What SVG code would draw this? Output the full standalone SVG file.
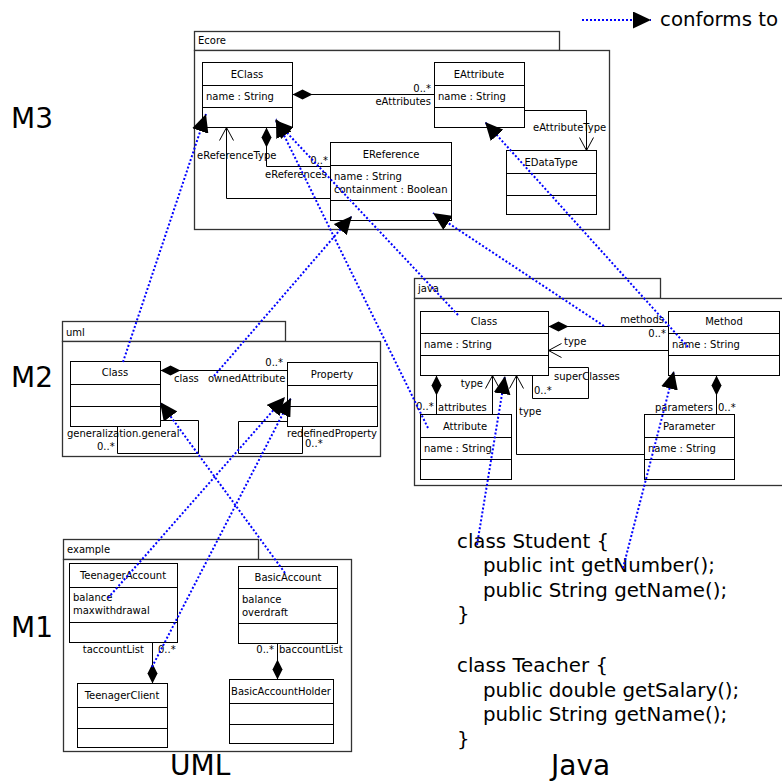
<svg xmlns="http://www.w3.org/2000/svg" width="782" height="782" viewBox="0 0 782 782">
<style>
text{font-family:"DejaVu Sans","Liberation Sans",sans-serif;fill:#000}
.s{font-size:10px}
.c{font-size:10px;text-anchor:middle}
.r{font-size:10px;text-anchor:end}
.code{font-size:19.8px}
.lvl{font-size:28px}
.box{fill:#fff;stroke:#000;stroke-width:1}
.pkg{fill:#fff;stroke:#333;stroke-width:1.3}
.ln{fill:none;stroke:#000;stroke-width:1}
.conf{fill:none;stroke:#0000ff;stroke-width:2;stroke-dasharray:2,2}
</style>
<defs>
<marker id="dia" markerUnits="userSpaceOnUse" markerWidth="21" markerHeight="11" viewBox="0 0 21 11" refX="0.5" refY="5.5" orient="auto"><path d="M0.5,5.5 L10.5,0.5 L20.5,5.5 L10.5,10.5 z" fill="#000"/></marker>
<marker id="open" markerUnits="userSpaceOnUse" markerWidth="15" markerHeight="16" viewBox="0 0 15 16" refX="13.5" refY="8" orient="auto"><path d="M0.5,1 L13.5,8 L0.5,15" fill="none" stroke="#000" stroke-width="1"/></marker>
<marker id="tri" markerUnits="userSpaceOnUse" markerWidth="18" markerHeight="17" viewBox="0 0 18 17" refX="18" refY="8.5" orient="auto"><path d="M0,0 L18,8.5 L0,17 z" fill="#000"/></marker>
</defs>

<g id="legend">
<line class="conf" x1="582" y1="20" x2="651" y2="20" marker-end="url(#tri)"/>
<text x="660" y="26" style="font-size:19.8px">conforms to</text>
</g>

<g id="levels">
<text class="lvl" x="11" y="128">M3</text>
<text class="lvl" x="11" y="387">M2</text>
<text class="lvl" x="11" y="637">M1</text>
<text class="lvl" x="170" y="775">UML</text>
<text class="lvl" x="551" y="775">Java</text>
</g>

<g id="pkg-ecore">
<rect class="pkg" x="194.5" y="31.5" width="365" height="19"/>
<rect class="pkg" x="194.5" y="50.5" width="415" height="179"/>
<text class="s" x="198" y="44">Ecore</text>
</g>
<g id="pkg-uml">
<rect class="pkg" x="62.5" y="321.5" width="223" height="20"/>
<rect class="pkg" x="62.5" y="341.5" width="318" height="115"/>
<text class="s" x="66" y="336">uml</text>
</g>
<g id="pkg-java">
<rect class="pkg" x="414.5" y="278.5" width="246" height="20"/>
<rect class="pkg" x="414.5" y="298.5" width="380" height="187"/>
<text class="s" x="418" y="292">java</text>
</g>
<g id="pkg-example">
<rect class="pkg" x="63.5" y="539.5" width="195" height="20"/>
<rect class="pkg" x="63.5" y="559.5" width="288" height="192"/>
<text class="s" x="67" y="553">example</text>
</g>

<g id="EClass">
<rect class="box" x="202.5" y="62.5" width="90" height="65"/>
<path class="ln" d="M202.5,85.5 H292.5 M202.5,107.5 H292.5"/>
<text class="c" x="247" y="78">EClass</text>
<text class="s" x="206" y="100">name : String</text>
</g>
<g id="EAttribute">
<rect class="box" x="434.5" y="62.5" width="90" height="65"/>
<path class="ln" d="M434.5,85.5 H524.5 M434.5,107.5 H524.5"/>
<text class="c" x="479" y="78">EAttribute</text>
<text class="s" x="438" y="100">name : String</text>
</g>
<g id="EDataType">
<rect class="box" x="506.5" y="150.5" width="90" height="64"/>
<path class="ln" d="M506.5,173.5 H596.5 M506.5,195.5 H596.5"/>
<text class="c" x="551" y="166">EDataType</text>
</g>
<g id="EReference">
<rect class="box" x="330.5" y="142.5" width="121" height="78"/>
<path class="ln" d="M330.5,165.5 H451.5 M330.5,200.5 H451.5"/>
<text class="c" x="391" y="158">EReference</text>
<text class="s" x="334" y="180">name : String</text>
<text class="s" x="334" y="193">containment : Boolean</text>
</g>

<g id="uml-Class">
<rect class="box" x="70.5" y="361.5" width="90" height="65"/>
<path class="ln" d="M70.5,384.5 H160.5 M70.5,406.5 H160.5"/>
<text class="c" x="115" y="376">Class</text>
</g>
<g id="uml-Property">
<rect class="box" x="287.5" y="362.5" width="90" height="64"/>
<path class="ln" d="M287.5,385.5 H377.5 M287.5,406.5 H377.5"/>
<text class="c" x="332" y="378">Property</text>
</g>

<g id="java-Class">
<rect class="box" x="420.5" y="311.5" width="128" height="64"/>
<path class="ln" d="M420.5,333.5 H548.5 M420.5,355.5 H548.5"/>
<text class="c" x="484" y="325">Class</text>
<text class="s" x="424" y="348">name : String</text>
</g>
<g id="java-Method">
<rect class="box" x="668.5" y="311.5" width="111" height="64"/>
<path class="ln" d="M668.5,333.5 H779.5 M668.5,355.5 H779.5"/>
<text class="c" x="724" y="325">Method</text>
<text class="s" x="672" y="348">name : String</text>
</g>
<g id="java-Attribute">
<rect class="box" x="420.5" y="414.5" width="91" height="65"/>
<path class="ln" d="M420.5,437.5 H511.5 M420.5,459.5 H511.5"/>
<text class="c" x="465" y="430">Attribute</text>
<text class="s" x="424" y="452">name : String</text>
</g>
<g id="java-Parameter">
<rect class="box" x="644.5" y="414.5" width="90" height="65"/>
<path class="ln" d="M644.5,437.5 H734.5 M644.5,459.5 H734.5"/>
<text class="c" x="689" y="430">Parameter</text>
<text class="s" x="648" y="452">name : String</text>
</g>

<g id="TeenagerAccount">
<rect class="box" x="69.5" y="563.5" width="108" height="79"/>
<path class="ln" d="M69.5,587.5 H177.5 M69.5,622.5 H177.5"/>
<text class="c" x="123" y="579">TeenagerAccount</text>
<text class="s" x="73" y="601">balance</text>
<text class="s" x="73" y="614">maxwithdrawal</text>
</g>
<g id="BasicAccount">
<rect class="box" x="238.5" y="566.5" width="99" height="77"/>
<path class="ln" d="M238.5,588.5 H337.5 M238.5,623.5 H337.5"/>
<text class="c" x="288" y="581">BasicAccount</text>
<text class="s" x="242" y="603">balance</text>
<text class="s" x="242" y="616">overdraft</text>
</g>
<g id="TeenagerClient">
<rect class="box" x="77.5" y="683.5" width="90" height="64"/>
<path class="ln" d="M77.5,707.5 H167.5 M77.5,728.5 H167.5"/>
<text class="c" x="122" y="699">TeenagerClient</text>
</g>
<g id="BasicAccountHolder">
<rect class="box" x="229.5" y="679.5" width="104" height="64"/>
<path class="ln" d="M229.5,703.5 H333.5 M229.5,724.5 H333.5"/>
<text class="c" x="281" y="695">BasicAccountHolder</text>
</g>

<g id="code">
<text class="code" x="457" y="548">class Student {</text>
<text class="code" x="483" y="572">public int getNumber();</text>
<text class="code" x="483" y="597">public String getName();</text>
<text class="code" x="457" y="621">}</text>
<text class="code" x="457" y="672">class Teacher {</text>
<text class="code" x="483" y="697">public double getSalary();</text>
<text class="code" x="483" y="721">public String getName();</text>
<text class="code" x="457" y="746">}</text>
</g>

<g id="connectors">
<path class="ln" d="M292.5,94.5 H434.5" marker-start="url(#dia)"/>
<path class="ln" d="M524.5,110.5 H586.5 V150.5" marker-end="url(#open)"/>
<path class="ln" d="M266.5,127.5 V166.5 H330.5" marker-start="url(#dia)"/>
<path class="ln" d="M330.5,198.5 H226.5 V127.5" marker-end="url(#open)"/>
<path class="ln" d="M160.5,370.5 H287.5" marker-start="url(#dia)"/>
<path class="ln" d="M117.5,426.5 V453.5 H198.5 V420.5 H160.5"/>
<path class="ln" d="M287.5,421.5 H238.5 V453.5 H302.5 V426.5"/>
<path class="ln" d="M548.5,326.5 H668.5" marker-start="url(#dia)"/>
<path class="ln" d="M668.5,350.5 H548.5" marker-end="url(#open)"/>
<path class="ln" d="M548.5,367.5 H588.5 V398.5 H532.5 V375.5"/>
<path class="ln" d="M436.5,375.5 V414.5" marker-start="url(#dia)"/>
<path class="ln" d="M492.5,414.5 V375.5" marker-end="url(#open)"/>
<path class="ln" d="M644.5,454.5 H516.5 V375.5" marker-end="url(#open)"/>
<path class="ln" d="M716.5,375.5 V414.5" marker-start="url(#dia)"/>
<path class="ln" d="M152.5,683.5 V642.5" marker-start="url(#dia)"/>
<path class="ln" d="M277.5,679.5 V643.5" marker-start="url(#dia)"/>
</g>

<g id="connector-labels">
<text class="r" x="431" y="92">0..*</text>
<text class="r" x="431" y="105">eAttributes</text>
<text class="s" x="533" y="131">eAttributeType</text>
<text class="s" x="197" y="159">eReferenceType</text>
<text class="r" x="328" y="164">0..*</text>
<text class="s" x="265" y="178">eReferences</text>
<text class="r" x="283" y="366">0..*</text>
<text class="s" x="174" y="382">class</text>
<text class="s" x="208" y="382">ownedAttribute</text>
<text class="s" x="67" y="437">generalization.general</text>
<text class="s" x="97" y="450">0..*</text>
<text class="s" x="287" y="437">redefinedProperty</text>
<text class="s" x="305" y="447">0..*</text>
<text class="r" x="664" y="323">methods</text>
<text class="r" x="666" y="337">0..*</text>
<text class="s" x="564" y="345">type</text>
<text class="s" x="554" y="380">superClasses</text>
<text class="s" x="534" y="394">0..*</text>
<text class="r" x="483" y="387">type</text>
<text class="s" x="416" y="410">0..*</text>
<text class="s" x="438" y="411">attributes</text>
<text class="s" x="519" y="415">type</text>
<text class="r" x="713" y="411">parameters</text>
<text class="s" x="718" y="411">0..*</text>
<text class="r" x="144" y="653">taccountList</text>
<text class="s" x="158" y="653">0..*</text>
<text class="r" x="274" y="653">0..*</text>
<text class="s" x="279" y="653">baccountList</text>
</g>

<g id="conformance">
<line class="conf" x1="123" y1="362" x2="206" y2="114" marker-end="url(#tri)"/>
<line class="conf" x1="214" y1="376" x2="352" y2="216" marker-end="url(#tri)"/>
<line class="conf" x1="458" y1="315" x2="275" y2="120" marker-end="url(#tri)"/>
<line class="conf" x1="428" y1="428" x2="276" y2="119" marker-end="url(#tri)"/>
<line class="conf" x1="604" y1="326" x2="433" y2="213" marker-end="url(#tri)"/>
<line class="conf" x1="688" y1="347" x2="485" y2="122" marker-end="url(#tri)"/>
<line class="conf" x1="477" y1="545" x2="505" y2="376" marker-end="url(#tri)"/>
<line class="conf" x1="623" y1="568" x2="674" y2="371" marker-end="url(#tri)"/>
<line class="conf" x1="108" y1="598" x2="285" y2="397" marker-end="url(#tri)"/>
<line class="conf" x1="152" y1="667" x2="291" y2="398" marker-end="url(#tri)"/>
<line class="conf" x1="285" y1="573" x2="160" y2="402" marker-end="url(#tri)"/>
</g>
</svg>
